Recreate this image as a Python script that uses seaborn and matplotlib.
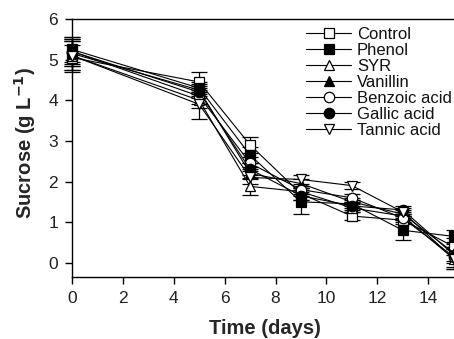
import matplotlib
matplotlib.use("Agg")
import matplotlib.pyplot as plt
import seaborn as sns
import pandas as pd

days = [0, 5, 7, 9, 11, 13, 15]
series_names = ["Control", "Phenol", "SYR", "Vanillin", "Benzoic acid", "Gallic acid", "Tannic acid"]
control  = [5.05, 4.45, 2.90, 1.70, 1.15, 1.05, 0.40]
phenol   = [5.25, 4.30, 2.65, 1.50, 1.45, 0.80, 0.65]
syr      = [5.10, 4.00, 1.88, 1.75, 1.35, 1.15, 0.10]
vanillin = [5.15, 4.25, 2.20, 1.95, 1.50, 1.20, 0.25]
benzoic  = [5.20, 4.10, 2.45, 1.80, 1.60, 1.10, 0.15]
gallic   = [5.20, 4.20, 2.30, 1.65, 1.40, 1.30, 0.20]
tannic   = [5.10, 3.90, 2.10, 2.05, 1.90, 1.25, 0.10]

control_err  = [0.30, 0.25, 0.20, 0.15, 0.10, 0.10, 0.20]
phenol_err   = [0.30, 0.15, 0.20, 0.30, 0.10, 0.25, 0.15]
syr_err      = [0.35, 0.20, 0.20, 0.10, 0.10, 0.10, 0.25]
vanillin_err = [0.30, 0.15, 0.15, 0.10, 0.10, 0.10, 0.20]
benzoic_err  = [0.35, 0.20, 0.15, 0.10, 0.10, 0.10, 0.25]
gallic_err   = [0.30, 0.15, 0.15, 0.10, 0.10, 0.10, 0.20]
tannic_err   = [0.40, 0.35, 0.15, 0.10, 0.08, 0.10, 0.25]

values = [control, phenol, syr, vanillin, benzoic, gallic, tannic]
errors = [control_err, phenol_err, syr_err, vanillin_err, benzoic_err, gallic_err, tannic_err]
markers = ["s", "s", "^", "^", "o", "o", "v"]
filled = [False, True, False, True, False, True, False]

sns.set_style("ticks")
plt.rcParams["font.family"] = ["Liberation Sans", "DejaVu Sans"]

fig = plt.figure(figsize=(4.54, 3.39), dpi=100)
W, H = 454, 339
left, right, top, bottom = 72, 460, 19, 277
ax = fig.add_axes([left / W, 1 - bottom / H, (right - left) / W, (bottom - top) / H])

for name, vals, errs, mk, fl in zip(series_names, values, errors, markers, filled):
    df = pd.DataFrame({"Time": days, "Sucrose": vals})
    ax.errorbar(days, vals, yerr=errs, fmt="none", ecolor="black", elinewidth=0.9,
                capsize=6, capthick=0.9, clip_on=False, zorder=2)
    sns.lineplot(data=df, x="Time", y="Sucrose", ax=ax, color="black", linewidth=0.8,
                 marker=mk, markersize=7.5 if mk in ("s", "o") else 7.5,
                 markerfacecolor="black" if fl else "white", markeredgecolor="black",
                 markeredgewidth=0.9, label=name, clip_on=False, zorder=3)

ax.set_xlim(0, 15.25)
ax.set_ylim(-0.35, 6)
ax.set_xticks(range(0, 15, 2))
ax.set_yticks(range(0, 7))
for s in ["left", "bottom", "top", "right"]:
    ax.spines[s].set_visible(True)
    ax.spines[s].set_color("black")
    ax.spines[s].set_linewidth(1.0)
ax.tick_params(axis="both", direction="out", length=5, width=1, labelsize=12.5,
               colors="black", labelcolor="#222222", pad=5)

ax.set_xlabel("Time (days)", fontsize=14.5, fontweight="bold")
ax.set_ylabel("Sucrose (g L$^{\\mathbf{-1}}$)", fontsize=14.5, fontweight="bold")
ax.xaxis.set_label_coords((265 - left) / (right - left), -(328 - bottom) / (bottom - top))
ax.yaxis.set_label_coords(-(left - 25) / (right - left), (bottom - 143) / (bottom - top))
ax.xaxis.label.set_va("center")
ax.yaxis.label.set_va("center")

leg = ax.legend(loc="upper left", bbox_to_anchor=(306 / W, 1 - 27 / H),
                bbox_transform=fig.transFigure, frameon=False, fontsize=12,
                handlelength=2.7, handletextpad=0.35, labelspacing=0.06,
                borderaxespad=0, borderpad=0)
for t in leg.get_texts():
    t.set_color("#111111")

fig.savefig("out.png", dpi=100)
